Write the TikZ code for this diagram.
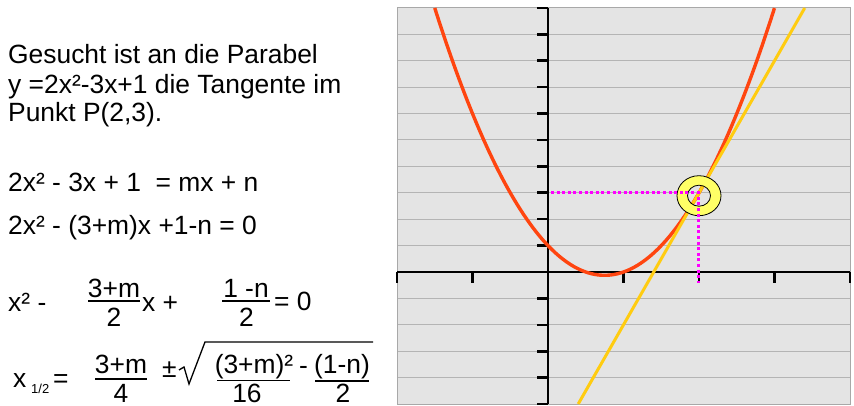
\documentclass[tikz,border=0pt]{standalone}
\usepackage{fontspec}
\setmainfont{Liberation Sans}
\definecolor{bgc}{HTML}{E4E4E4}
\definecolor{gridc}{HTML}{B4B4B4}
\definecolor{framec}{HTML}{A8A8A8}
\definecolor{curvec}{HTML}{FF4510}
\definecolor{tangc}{HTML}{FFCC11}
\definecolor{ringc}{HTML}{FFFF66}
\definecolor{dotc}{HTML}{FF00FF}
\begin{document}
\begin{tikzpicture}[x=1pt,y=-1pt,
  txt/.style={inner sep=0pt, anchor=base west, font=\fontsize{26.4}{30}\selectfont},
  ctxt/.style={inner sep=0pt, anchor=base, font=\fontsize{26.4}{30}\selectfont},
  smalltxt/.style={inner sep=0pt, anchor=base west, font=\fontsize{13}{15}\selectfont},
  fbar/.style={line width=1.6pt},
  axisline/.style={line width=2.6pt, black},
  curveline/.style={line width=3.4pt, curvec},
  tangline/.style={line width=3pt, tangc},
  dotline/.style={line width=3.2pt, dotc, dash pattern=on 3pt off 2.6pt}]
\useasboundingbox (0,0) rectangle (854,406);

% ---------- text ----------
\node[txt] (t1) at (8,64) {Gesucht ist an die Parabel};
\node[txt] (t2) at (8,94) {y =2x²-3x+1 die Tangente im};
\node[txt] (t3) at (8,122) {Punkt P(2,3).};
\node[txt] (e1) at (8,192) {2x² - 3x + 1\ \ = mx + n};
\node[txt] (e2) at (8,234) {2x² - (3+m)x +1-n = 0};

% row 3
\node[txt] (r3a) at (8,311) {x² -};
\node[ctxt] (r3n1) at (114,297) {3+m};
\draw[fbar] (88,301) -- (140,301);
\node[ctxt] (r3d1) at (114,326) {2};
\node[txt] (r3b) at (142,311) {x +};
\node[ctxt] (r3n2) at (246,297) {1 -n};
\draw[fbar] (222,301) -- (270,301);
\node[ctxt] (r3d2) at (246.5,326) {2};
\node[txt] (r3c) at (274,310) {= 0};

% row 4
\node[txt] (r4x) at (13,387) {x};
\node[smalltxt] (r4s) at (31,393) {1/2};
\node[txt] (r4e) at (53,387) {=};
\node[ctxt] (r4n1) at (121,373) {3+m};
\draw[fbar] (95,379) -- (147,379);
\node[ctxt] (r4d1) at (121,402) {4};
\node[txt] (r4pm) at (162,377) {±};
\draw[line width=1.3pt, line join=miter] (179,370) -- (184,367) -- (189,384) -- (205,342) -- (373,342);
\node[ctxt] (r4n2) at (254,373) {(3+m)²};
\draw[fbar] (217,380.5) -- (290,380.5);
\node[ctxt] (r4d2) at (247,402) {16};
\node[txt] (r4m) at (299,374) {-};
\node[ctxt] (r4n3) at (342,373) {(1-n)};
\draw[fbar] (315,381) -- (369,381);
\node[ctxt] (r4d3) at (343,402) {2};

% ---------- plot ----------
\begin{scope}[shift={(548,272)}, x=75.5pt, y=26.4pt]
  \fill[bgc] (-2,-5) rectangle (4,10);
  \foreach \k in {-4,...,9} \draw[gridc, line width=1pt] (-2,\k) -- (4,\k);
  \draw[framec, line width=1pt] (-2,-5) rectangle (4,10);
  \draw[axisline] (-2,0) -- (4,0);
  \draw[axisline] (0,-5) -- (0,10);
  \foreach \k in {-5,...,10} \draw[axisline] (0,\k) -- ++(-11pt,0);
  \foreach \k in {-2,...,4} \draw[axisline] (\k,0) -- ++(0,-11pt);
  \begin{scope}
    \clip (-2,-5) rectangle (4,10);
    \draw[curveline] plot[domain=-1.5:3, samples=120, smooth] (\x,{2*\x*\x-3*\x+1});
    \draw[tangline] (0.4,-5) -- (3.4,10);
  \end{scope}
  \coordinate (rc) at (2,2.89);
  \coordinate (P) at (1.99,3);
  \coordinate (Y) at (0.04,3);
  \coordinate (X) at (1.99,-0.42);
  \path[draw=black, line width=0.8pt, fill=ringc, even odd rule]
    (rc) ellipse [x radius=22pt, y radius=20pt]
    (rc) ellipse [x radius=11.5pt, y radius=10.5pt];
  \draw[dotline] (Y) -- (P) -- (X);
\end{scope}
\end{tikzpicture}
\end{document}
